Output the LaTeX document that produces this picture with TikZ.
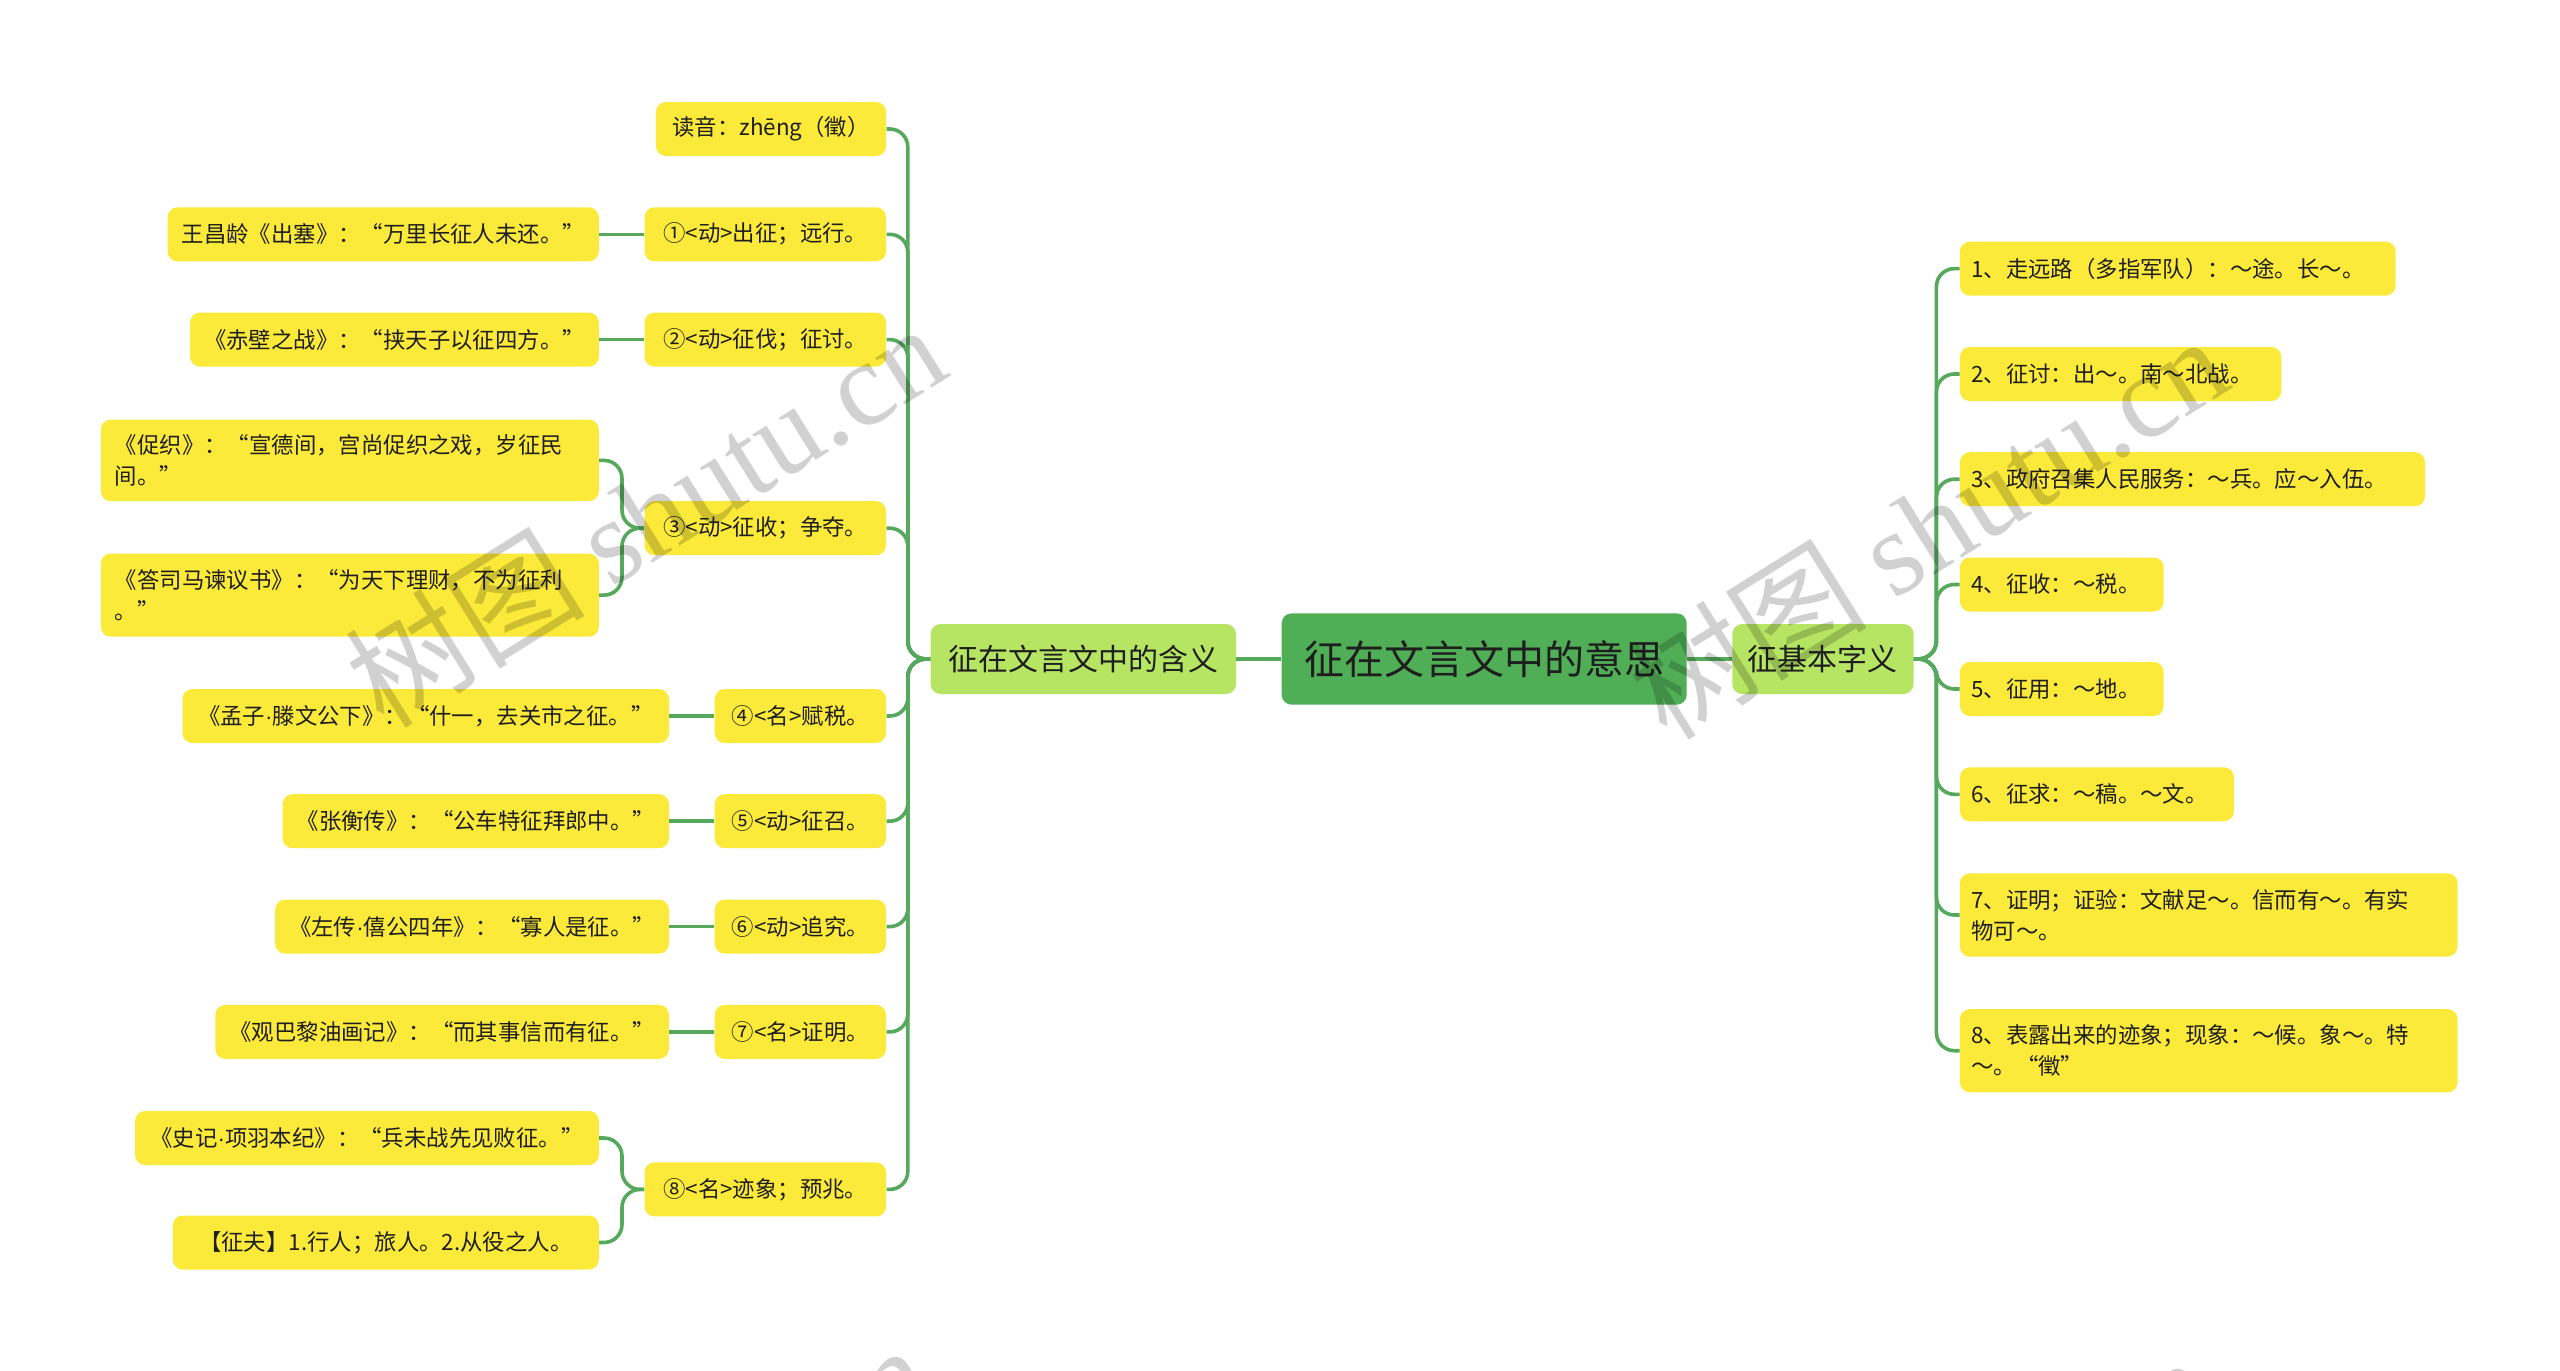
\documentclass[tikz,border=0pt]{standalone}
\usepackage{fontspec}
\setmainfont{Noto Sans CJK SC}
\newfontfamily\wmfont{Liberation Serif}
\newfontfamily\latf{Liberation Sans}
\newcommand{\mydot}{{\latf ·}}
\definecolor{cgreen}{HTML}{50AE56}
\definecolor{lgreen}{HTML}{B5E563}
\definecolor{yel}{HTML}{FCEA3B}
\definecolor{lineg}{HTML}{55A85C}
\definecolor{txt}{HTML}{1E1E1E}
\begin{document}
\begin{tikzpicture}[x=0.5pt,y=-0.5pt,
  leaf/.style={fill=yel, rounded corners=5pt, minimum height=27pt, inner xsep=7pt, inner ysep=3pt,
    font=\fontsize{11.2}{15.5}\selectfont, text=txt, align=left},
  leafE/.style={leaf, anchor=east},
  leafW/.style={leaf, anchor=west, inner xsep=5.7pt},
  mainb/.style={fill=lgreen, rounded corners=5pt, minimum height=35pt, inner xsep=6pt,
    font=\fontsize{15}{18}\selectfont, text=txt},
  rootb/.style={fill=cgreen, rounded corners=5pt, minimum height=45.7pt, minimum width=202.5pt,
    font=\fontsize{20}{24}\selectfont, text=txt},
  conn/.style={draw=lineg, line width=1.8pt, rounded corners=9pt},
  wm/.style={text=black, opacity=0.18, font=\fontsize{60}{60}\selectfont, rotate=32}
]
\fill[white] (0,0) rectangle (2560,1371);
\useasboundingbox (0,0) rectangle (2560,1371);

% main nodes
\node[rootb] (root) at (1484.2,659) {征在文言文中的意思};
\node[mainb, minimum width=152.7pt] (L) at (1083.3,659) {征在文言文中的含义};
\node[mainb, minimum width=90.6pt] (R) at (1822.9,659) {征基本字义};

% left level 2
\node[leafE, minimum width=115.1pt] (a0) at (886.5,129) {读音：zhēng（徵）};
\node[leafE, minimum width=120.8pt] (a1) at (886.5,234.3) {①<动>出征；远行。};
\node[leafE, minimum width=120.8pt] (a2) at (886.5,339.6) {②<动>征伐；征讨。};
\node[leafE, minimum width=120.8pt] (a3) at (886.5,528.2) {③<动>征收；争夺。};
\node[leafE, minimum width=85.7pt] (a4) at (886.5,716) {④<名>赋税。};
\node[leafE, minimum width=85.7pt] (a5) at (886.5,821.2) {⑤<动>征召。};
\node[leafE, minimum width=85.7pt] (a6) at (886.5,926.6) {⑥<动>追究。};
\node[leafE, minimum width=85.7pt] (a7) at (886.5,1031.9) {⑦<名>证明。};
\node[leafE, minimum width=120.8pt] (a8) at (886.5,1189.4) {⑧<名>迹象；预兆。};

% left level 3
\node[leafE, minimum width=213.9pt] (b1) at (599.2,234.3) {王昌龄《出塞》：“万里长征人未还。”};
\node[leafE, minimum width=201.65pt] (b2) at (599.2,339.6) {《赤壁之战》：“挟天子以征四方。”};
\node[leafE, text width=235pt, minimum height=40.8pt] (b3a) at (599.2,460.4) {《促织》：“宣德间，宫尚促织之戏，岁征民\\间。”};
\node[leafE, text width=235pt, minimum height=41.6pt] (b3b) at (599.2,595.1) {《答司马谏议书》：“为天下理财，不为征利\\。”};
\node[leafE, minimum width=243.25pt] (b4) at (669.4,716) {《孟子\mydot 滕文公下》：“什一，去关市之征。”};
\node[leafE, minimum width=189.4pt] (b5) at (669.4,821.2) {《张衡传》：“公车特征拜郎中。”};
\node[leafE, minimum width=195.9pt] (b6) at (669.4,926.6) {《左传\mydot 僖公四年》：“寡人是征。”};
\node[leafE, minimum width=225.3pt] (b7) at (669.4,1031.9) {《观巴黎油画记》：“而其事信而有征。”};
\node[leafE, minimum width=231.85pt] (b8a) at (599.2,1138) {《史记\mydot 项羽本纪》：“兵未战先见败征。”};
\node[leafE, minimum width=213pt] (b8b) at (599.2,1242.5) {【征夫】1.行人；旅人。2.从役之人。};

% right level 2
\node[leafW, text width=206.45pt] (r1) at (1959.5,268.6) {1、走远路（多指军队）：～途。长～。};
\node[leafW, text width=149.3pt] (r2) at (1959.5,374) {2、征讨：出～。南～北战。};
\node[leafW, text width=221.15pt] (r3) at (1959.5,479.2) {3、政府召集人民服务：～兵。应～入伍。};
\node[leafW, text width=90.5pt] (r4) at (1959.5,584.5) {4、征收：～税。};
\node[leafW, text width=90.5pt] (r5) at (1959.5,689) {5、征用：～地。};
\node[leafW, text width=125.6pt] (r6) at (1959.5,794.3) {6、征求：～稿。～文。};
\node[leafW, text width=237.45pt, minimum height=41.6pt] (r7) at (1959.5,915) {7、证明；证验：文献足～。信而有～。有实\\物可～。};
\node[leafW, text width=237.45pt, minimum height=41.6pt] (r8) at (1959.5,1050.7) {8、表露出来的迹象；现象：～候。象～。特\\～。“徵”};

% spines
\coordinate (Ls) at (907.8,659);
\coordinate (Rs) at (1936.4,659);
\coordinate (B3) at (622,528.2);
\coordinate (B8) at (622,1189.4);

\draw[conn] (root.west) -- (L.east);
\draw[conn] (root.east) -- (R.west);
\foreach \n in {a0,a1,a2,a3,a4,a5,a6,a7,a8}
  \draw[conn] (L.west) -- (Ls) |- (\n.east);
\foreach \n in {r1,r2,r3,r4,r5,r6,r7,r8}
  \draw[conn] (R.east) -- (Rs) |- (\n.west);
\draw[conn] (a1.west) -- (b1.east);
\draw[conn] (a2.west) -- (b2.east);
\draw[conn] (a3.west) -- (B3) |- (b3a.east);
\draw[conn] (a3.west) -- (B3) |- (b3b.east);
\draw[conn] (a4.west) -- (b4.east);
\draw[conn] (a5.west) -- (b5.east);
\draw[conn] (a6.west) -- (b6.east);
\draw[conn] (a7.west) -- (b7.east);
\draw[conn] (a8.west) -- (B8) |- (b8a.east);
\draw[conn] (a8.west) -- (B8) |- (b8b.east);

% watermarks
\begin{scope}
\clip (0,0) rectangle (2560,1371);
\node[wm] (wm1) at (645,514) {树图 {\wmfont shutu.cn}};
\node[wm] (wm2) at (1927,526) {树图 {\wmfont shutu.cn}};
\node[wm] (wm3) at (629,1535) {树图 {\wmfont shutu.cn}};
\node[wm] (wm4) at (1911,1547) {树图 {\wmfont shutu.cn}};
\end{scope}
\end{tikzpicture}
\end{document}
